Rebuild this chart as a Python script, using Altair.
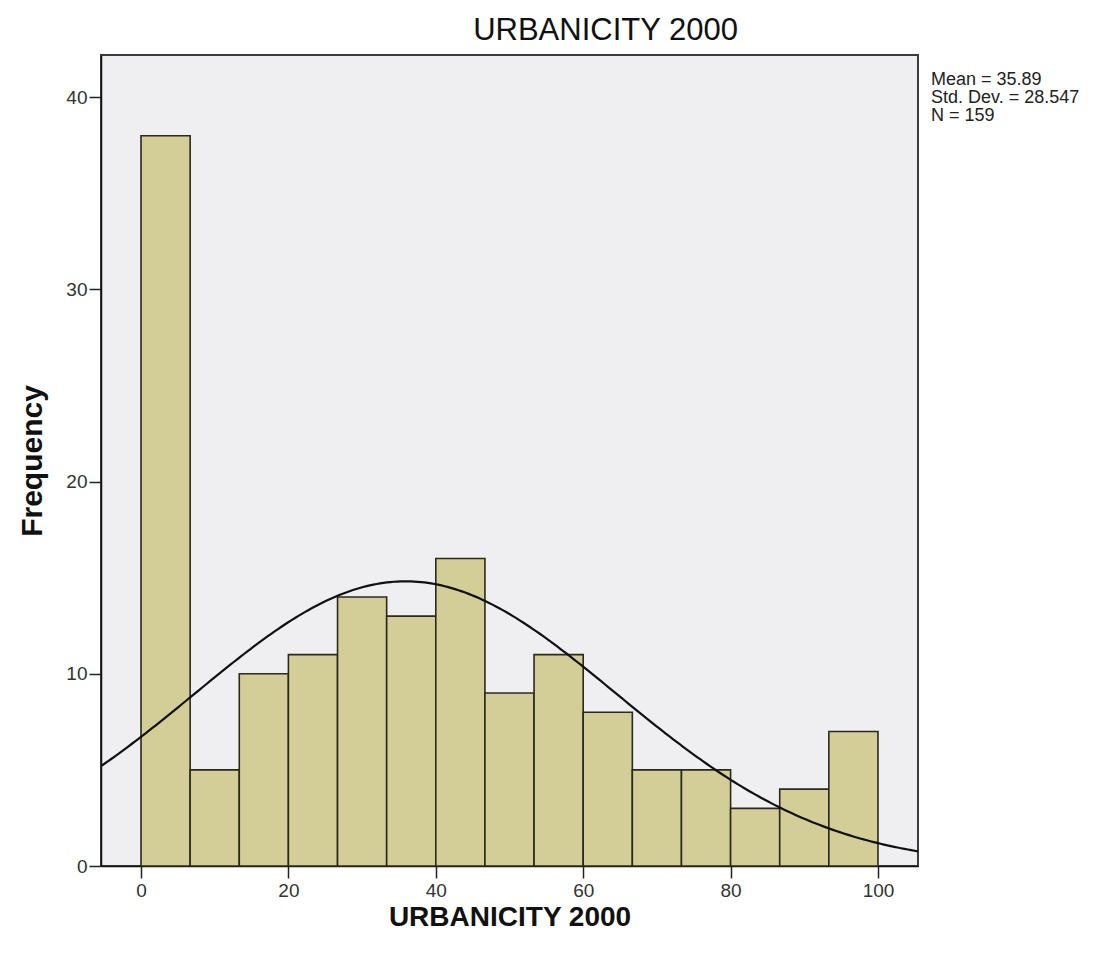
import math

import altair as alt
import pandas as pd

# Histogram of URBANICITY 2000: 15 equal-width bins over 0-100
COUNTS = [38, 5, 10, 11, 14, 13, 16, 9, 11, 8, 5, 5, 3, 4, 7]
BIN_LO, BIN_HI = 0.0, 100.0
X_DOMAIN = [-5.43, 105.43]
Y_DOMAIN = [0, 42.2]
X_TICKS = [0, 20, 40, 60, 80, 100]
Y_TICKS = [0, 10, 20, 30, 40]

# Summary statistics printed beside the plot; the normal curve uses them
MEAN = 35.89
SD = 28.547
N = 159

FONT = "Liberation Sans"
BAR_FILL = "#d3ce97"
BAR_EDGE = "#2a2a1c"
PLOT_BG = "#efeff1"

W, H = 817, 811

width_bin = (BIN_HI - BIN_LO) / len(COUNTS)
bars = pd.DataFrame({
    "lo": [BIN_LO + i * width_bin for i in range(len(COUNTS))],
    "hi": [BIN_LO + (i + 1) * width_bin for i in range(len(COUNTS))],
    "count": COUNTS,
})

# Fitted normal density scaled to frequency per bin
steps = 240
xs = [X_DOMAIN[0] + (X_DOMAIN[1] - X_DOMAIN[0]) * k / steps for k in range(steps + 1)]
scale = N * width_bin / (SD * math.sqrt(2 * math.pi))
curve = pd.DataFrame({
    "x": xs,
    "y": [scale * math.exp(-0.5 * ((v - MEAN) / SD) ** 2) for v in xs],
})

x_scale = alt.Scale(domain=X_DOMAIN, nice=False, zero=False)
y_scale = alt.Scale(domain=Y_DOMAIN, nice=False)

x_axis = alt.Axis(
    values=X_TICKS, grid=False, title="URBANICITY 2000",
    titleFont=FONT, titleFontSize=28, titleFontWeight="bold", titleColor="#111",
    titlePadding=3,
    labelFont=FONT, labelFontSize=19, labelColor="#333", labelPadding=3,
    tickSize=12, tickColor="#222", tickWidth=1.5,
    domainColor="#111", domainWidth=1.5,
)
y_axis = alt.Axis(
    values=Y_TICKS, grid=False, title="Frequency",
    titleFont=FONT, titleFontSize=30, titleFontWeight="bold", titleColor="#111",
    titlePadding=18,
    labelFont=FONT, labelFontSize=19, labelColor="#333", labelPadding=2,
    tickSize=12, tickColor="#222", tickWidth=1.5,
    domainColor="#111", domainWidth=1.5,
)

hist = alt.Chart(bars).mark_rect(
    fill=BAR_FILL, stroke=BAR_EDGE, strokeWidth=1.6
).encode(
    x=alt.X("lo:Q", scale=x_scale, axis=x_axis),
    x2="hi:Q",
    y=alt.Y("count:Q", scale=y_scale, axis=y_axis),
    y2=alt.datum(0),
)

line = alt.Chart(curve).mark_line(
    color="#111", strokeWidth=2.2, clip=True
).encode(
    x=alt.X("x:Q", scale=x_scale),
    y=alt.Y("y:Q", scale=y_scale),
)

stats = alt.Chart(pd.DataFrame({"k": [0]})).mark_text(
    text=[f"Mean = {MEAN}", f"Std. Dev. = {SD}", f"N = {N}"],
    font=FONT, fontSize=18, lineHeight=18, align="left", baseline="top",
    color="#222",
).encode(
    x=alt.value(W + 13),
    y=alt.value(16),
)

chart = alt.layer(hist, line, stats).properties(
    width=W,
    height=H,
    title=alt.TitleParams(
        "URBANICITY 2000", font=FONT, fontSize=31, fontWeight="normal",
        color="#111", anchor="middle", dx=96, offset=8,
    ),
    autosize=alt.AutoSizeParams(type="none"),
    padding={"left": 101, "top": 55, "right": 196, "bottom": 89},
).configure(
    background="white"
).configure_view(
    fill=PLOT_BG, stroke="#3c3c3c", strokeWidth=2
)

chart.save("out.html", embed_options={"renderer": "svg", "actions": False})
